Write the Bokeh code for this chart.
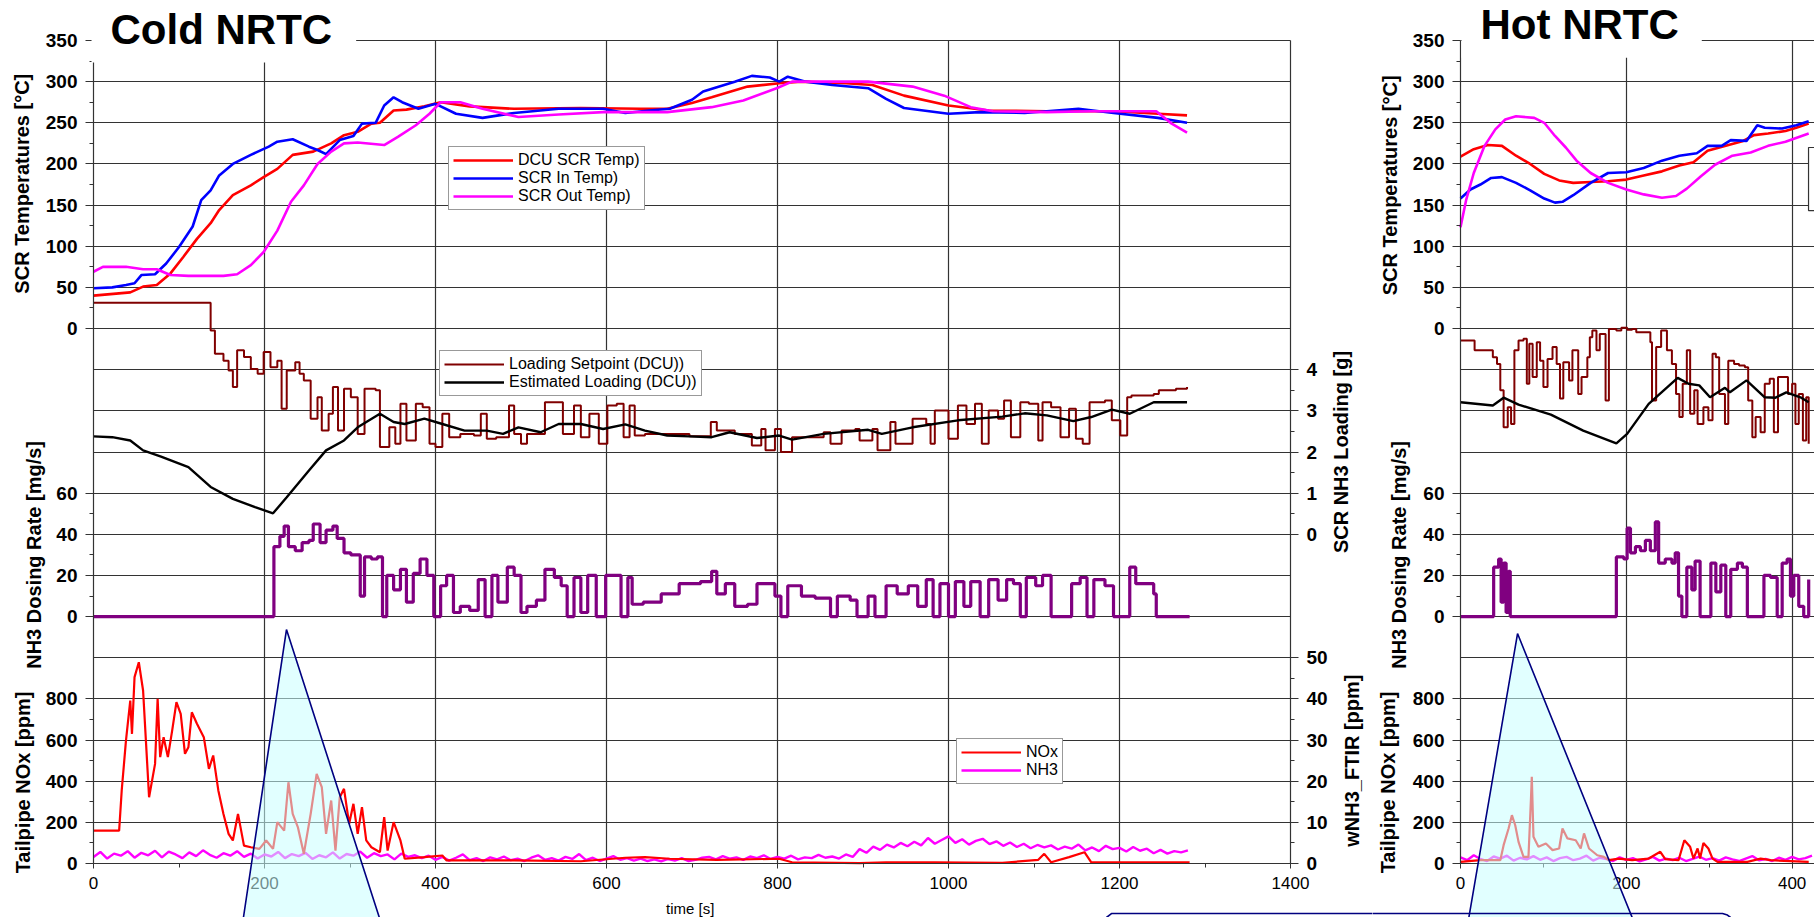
import json
import numpy as np
from bokeh.plotting import figure
from bokeh.models import (Range1d, LinearAxis, FixedTicker, CustomJSTickFormatter,
                          Label, Legend, LegendItem, PolyAnnotation)
from bokeh.layouts import row
from bokeh.embed import file_html
from bokeh.resources import INLINE

# ======================= DATA : Cold NRTC =======================
cold_dcu_t = [0, 43, 58, 74, 90, 105, 121, 137, 147, 163, 184, 199, 215, 233, 257, 278, 293, 309, 325, 335,
              351, 366, 387, 406, 440, 492, 570, 640, 671, 700, 723, 765, 802, 828, 880, 911, 948, 1000, 1047,
              1115, 1193, 1245, 1279]
cold_dcu_v = [40, 44, 51, 53, 67, 87, 109, 128, 144, 162, 174, 184, 194, 211, 215, 225, 235, 239, 249, 250,
              265, 266, 270, 275, 270, 267, 268, 267, 267, 274, 281, 294, 298, 300, 298, 296, 283, 271, 265,
              264, 264, 261, 259]
cold_in_t = [0, 22, 38, 48, 56, 72, 85, 100, 116, 126, 137, 147, 163, 184, 205, 215, 233, 252, 262, 272,
             288, 304, 314, 330, 340, 351, 361, 380, 400, 424, 455, 492, 544, 596, 622, 650, 674, 700, 713, 750,
             770, 791, 802, 812, 833, 864, 906, 927, 948, 1000, 1037, 1089, 1152, 1193, 1245, 1279]
cold_in_v = [49, 50, 53, 55, 65, 66, 79, 99, 124, 156, 168, 186, 200, 211, 221, 227, 230, 221, 217, 212,
             229, 234, 249, 250, 271, 281, 275, 267, 273, 261, 256, 262, 267, 267, 262, 265, 267, 278, 288, 300,
             307, 305, 300, 306, 300, 296, 292, 279, 268, 261, 263, 262, 267, 262, 256, 250]
cold_out_t = [0, 11, 38, 58, 74, 90, 111, 152, 168, 184, 199, 215, 231, 246, 262, 278, 293, 309, 340, 356,
              377, 393, 406, 429, 455, 497, 544, 596, 671, 723, 760, 799, 817, 854, 906, 958, 995, 1026, 1052, 1115,
              1167, 1243, 1261, 1279]
cold_out_v = [69, 75, 75, 72, 72, 65, 64, 64, 66, 77, 93, 119, 154, 174, 200, 215, 225, 226, 223, 233,
              247, 261, 275, 275, 267, 257, 260, 263, 263, 269, 277, 292, 300, 300, 300, 294, 283, 269, 264, 263,
              264, 264, 249, 238]

cold_set_t = [0, 130, 137, 142, 152, 158, 163, 168, 176, 184, 192, 199, 207, 215, 220, 226, 236, 241, 246, 254,
              262, 267, 275, 280, 286, 293, 301, 309, 317, 330, 335, 346, 353, 359, 366, 377, 385, 393, 400, 408,
              416, 429, 445, 453, 460, 471, 486, 492, 500, 507, 518, 528, 541, 549, 562, 570, 580, 591, 601, 612,
              620, 627, 633, 645, 674, 697, 722, 729, 750, 770, 781, 786, 797, 804, 817, 854, 862, 875, 891, 896,
              911, 917, 932, 938, 958, 974, 979, 984, 995, 1000, 1011, 1021, 1031, 1039, 1047, 1058, 1065, 1073,
              1084, 1094, 1105, 1110, 1120, 1131, 1141, 1149, 1157, 1165, 1183, 1191, 1201, 1209, 1214, 1240,
              1246, 1266, 1279]
cold_set_v = [5.63, 5.63, 4.95, 4.39, 4.22, 3.98, 3.58, 4.47, 4.31, 4.02, 3.90, 4.43, 4.06, 4.22, 3.05, 3.98,
              4.18, 3.90, 3.74, 2.81, 3.33, 2.52, 2.93, 3.58, 2.52, 3.54, 3.33, 2.44, 3.54, 3.50, 2.12, 2.60,
              2.20, 3.17, 2.28, 3.17, 3.09, 2.20, 2.12, 2.93, 2.36, 2.44, 2.40, 2.93, 2.32, 2.36, 3.13, 2.44,
              2.20, 2.44, 2.44, 3.21, 3.21, 2.44, 3.13, 2.36, 2.93, 2.20, 3.13, 3.17, 2.36, 3.13, 2.40, 2.44,
              2.44, 2.38, 2.73, 2.52, 2.44, 2.16, 2.56, 2.04, 2.56, 2.00, 2.36, 2.48, 2.20, 2.52, 2.56, 2.28,
              2.56, 2.04, 2.73, 2.20, 2.81, 2.68, 2.20, 3.01, 3.01, 2.32, 3.13, 2.68, 3.17, 2.20, 3.01, 2.81,
              3.25, 2.36, 3.21, 3.17, 2.28, 3.21, 3.09, 2.36, 3.05, 2.32, 2.20, 3.21, 3.25, 2.77, 2.40, 3.33,
              3.37, 3.41, 3.50, 3.54, 3.58]
cold_est_t = [0, 22, 43, 58, 79, 111, 137, 163, 189, 210, 226, 252, 272, 293, 309, 335, 351, 364, 387, 408,
              434, 460, 479, 497, 523, 544, 570, 596, 622, 645, 671, 697, 723, 744, 776, 802, 817, 854, 906, 922,
              958, 1011, 1063, 1089, 1115, 1146, 1167, 1191, 1212, 1240, 1279]
cold_est_v = [2.38, 2.36, 2.28, 2.04, 1.89, 1.63, 1.15, 0.86, 0.66, 0.51, 0.90, 1.55, 2.04, 2.28, 2.60, 2.93,
              2.73, 2.68, 2.81, 2.68, 2.52, 2.52, 2.44, 2.60, 2.48, 2.68, 2.68, 2.56, 2.67, 2.52, 2.40, 2.38,
              2.36, 2.48, 2.34, 2.40, 2.30, 2.44, 2.54, 2.44, 2.60, 2.77, 2.86, 2.94, 2.89, 2.75, 2.85, 3.03,
              2.93, 3.21, 3.21]

cold_dose_t = [0, 210, 211, 218, 223, 228, 236, 244, 252, 257, 265, 272, 280, 285, 293, 301, 309, 312, 317, 325,
               332, 338, 343, 351, 359, 366, 374, 382, 390, 398, 406, 413, 421, 429, 440, 450, 458, 466, 473, 484,
               492, 500, 507, 518, 528, 539, 547, 554, 562, 570, 578, 588, 599, 607, 617, 625, 630, 643, 664, 685,
               710, 723, 729, 739, 750, 765, 776, 786, 797, 804, 812, 828, 844, 862, 870, 885, 893, 906, 914, 927,
               940, 953, 964, 974, 982, 990, 1000, 1008, 1018, 1026, 1037, 1047, 1058, 1068, 1076, 1084, 1091,
               1102, 1110, 1120, 1136, 1144, 1154, 1162, 1170, 1183, 1193, 1204, 1212, 1219, 1240, 1243, 1282]
cold_dose_v = [0, 0, 34, 39, 44, 34, 32, 36, 37, 45, 36, 42, 44, 38, 31, 30, 30, 10, 29, 28,
               29, 0, 20, 13, 23, 7, 21, 28, 20, 0, 15, 20, 2, 5, 3, 18, 0, 20, 7, 24,
               20, 2, 5, 8, 23, 19, 15, 0, 19, 2, 20, 0, 20, 20, 0, 19, 6, 7, 11, 16,
               17, 22, 11, 16, 5, 6, 16, 16, 10, 0, 15, 10, 9, 0, 10, 8, 0, 10, 0, 15,
               11, 15, 5, 18, 0, 16, 0, 17, 5, 17, 0, 18, 8, 18, 16, 0, 19, 15, 20, 0,
               0, 16, 19, 0, 18, 15, 0, 0, 24, 16, 11, 0, 0]

cold_nox_t = [0, 30, 33, 38, 43, 45, 48, 53, 58, 65, 72, 75, 78, 82, 87, 92, 97, 102, 107, 111,
              115, 121, 129, 135, 140, 146, 152, 158, 163, 169, 176, 184, 194, 202, 210, 215, 223, 228, 233, 239,
              246, 254, 261, 267, 272, 278, 283, 288, 293, 299, 304, 309, 314, 319, 325, 335, 340, 344, 351, 359,
              364, 387, 408, 413, 440, 492, 570, 622, 645, 674, 729, 802, 817, 896, 927, 984, 1063, 1105, 1112,
              1120, 1141, 1159, 1167, 1251, 1282]
cold_nox_v = [160, 160, 355, 598, 792, 630, 906, 978, 841, 322, 484, 800, 517, 614, 517, 646, 784, 727, 533, 565,
              735, 679, 614, 460, 525, 355, 241, 144, 112, 241, 87, 79, 71, 112, 71, 201, 160, 395, 241, 177,
              47, 241, 436, 371, 144, 306, 63, 322, 363, 193, 290, 144, 274, 112, 79, 55, 225, 63, 201, 112,
              23, 31, 39, 15, 15, 15, 11, 28, 31, 23, 18, 23, 6, 2, 6, 6, 3, 18, 47, 6, 31, 55, 6, 6, 5]

cold_nh3_t = list(range(0, 1281, 8))
cold_nh3_v = [1.6, 2.8, 1.2, 2.4, 1.9, 3.0, 1.4, 2.6, 2.0, 3.1,
              1.5, 2.9, 2.2, 1.3, 2.7, 1.8, 3.2, 2.1, 1.4, 2.5,
              1.9, 3.0, 1.6, 2.4, 1.2, 2.2, 1.7, 2.8, 1.3, 2.3,
              1.8, 2.6, 1.1, 2.0, 1.5, 2.7, 1.2, 2.3, 1.9, 2.9,
              1.4, 2.5, 1.8, 2.2, 1.0, 2.4, 1.6, 2.0, 1.3, 1.9,
              0.9, 1.6, 0.7, 1.4, 2.2, 0.8, 1.3, 0.6, 1.5, 1.0,
              1.7, 0.8, 1.2, 0.6, 1.4, 2.0, 0.9, 1.3, 0.7, 1.6,
              1.1, 2.3, 0.8, 1.4, 0.6, 1.2, 1.8, 0.9, 1.3, 0.7,
              1.2, 0.6, 1.0, 0.5, 1.1, 0.7, 1.3, 0.6, 0.9, 1.4,
              1.6, 1.0, 1.8, 1.2, 1.5, 0.9, 1.7, 1.3, 2.0, 1.1,
              1.6, 1.2, 1.9, 1.0, 1.5, 1.3, 2.1, 1.4, 1.7, 1.2,
              2.2, 1.6, 3.5, 2.6, 4.1, 3.3, 4.6, 3.9, 5.0, 4.2,
              5.3, 4.4, 6.2, 4.8, 5.7, 6.6, 5.0, 5.9, 4.6, 5.5,
              6.0, 4.7, 5.4, 4.3, 5.1, 4.0, 4.8, 3.7, 4.5, 3.9,
              4.4, 3.4, 4.1, 3.6, 4.6, 3.2, 3.9, 3.0, 4.3, 3.5,
              3.8, 2.9, 4.0, 3.1, 3.6, 2.5, 3.3, 2.4, 3.0, 2.7,
              3.2]

# ======================= DATA : Hot NRTC =======================
hot_dcu_t = [0, 16, 33, 50, 67, 84, 101, 119, 136, 157, 178, 200, 221, 243, 264, 281, 298, 320, 341, 354,
             371, 392, 405, 420]
hot_dcu_v = [209, 218, 223, 222, 210, 200, 188, 180, 177, 178, 179, 181, 186, 191, 198, 202, 216, 222, 228, 235,
             237, 240, 244, 249]
hot_in_t = [0, 12, 24, 37, 50, 67, 84, 101, 114, 123, 136, 157, 178, 200, 221, 243, 264, 285, 298, 315,
            326, 345, 358, 367, 388, 405, 420]
hot_in_v = [158, 169, 175, 183, 184, 177, 168, 158, 153, 154, 162, 177, 189, 190, 195, 204, 210, 213, 222, 222,
            229, 228, 247, 244, 243, 247, 252]
hot_out_t = [0, 7, 16, 29, 42, 54, 67, 89, 101, 114, 127, 140, 157, 178, 200, 221, 243, 260, 273, 290,
             307, 328, 350, 371, 392, 420]
hot_out_v = [123, 157, 189, 222, 242, 254, 258, 256, 250, 234, 220, 204, 189, 177, 169, 163, 159, 161, 170, 185,
             199, 210, 214, 222, 227, 237]

hot_set_t = [0, 17, 39, 44, 48, 52, 57, 61, 65, 70, 76, 80, 83, 87, 92, 96, 100, 105, 111, 116,
             120, 124, 131, 135, 142, 146, 153, 156, 159, 164, 168, 175, 179, 188, 194, 201, 207, 212, 223, 229,
             231, 236, 242, 249, 255, 260, 264, 268, 273, 277, 282, 286, 293, 299, 304, 308, 312, 319, 323, 330,
             336, 343, 347, 352, 356, 362, 367, 373, 378, 383, 391, 395, 400, 404, 408, 413, 417, 420]
hot_set_v = [4.71, 4.47, 4.30, 4.14, 3.50, 2.60, 3.09, 2.68, 4.47, 4.71, 4.75, 3.66, 4.63, 3.82, 4.67, 4.22,
             3.58, 4.26, 4.55, 4.14, 3.30, 4.18, 3.74, 4.47, 3.41, 3.82, 4.30, 4.79, 4.95, 4.47, 4.87, 3.25,
             4.99, 4.95, 5.02, 4.97, 4.99, 4.91, 4.91, 4.67, 3.25, 4.55, 4.95, 4.47, 4.14, 3.41, 2.85, 3.66,
             4.47, 2.93, 3.50, 2.68, 3.09, 2.77, 4.39, 4.30, 3.41, 2.68, 4.22, 4.14, 4.10, 4.06, 3.25, 2.36,
             2.85, 2.48, 3.66, 3.78, 2.48, 3.82, 3.82, 3.41, 3.66, 2.68, 3.41, 2.28, 3.33, 2.20]
hot_est_t = [0, 39, 52, 70, 109, 148, 188, 201, 227, 262, 275, 288, 301, 319, 325, 345, 367, 380, 393, 410, 420]
hot_est_v = [3.21, 3.13, 3.32, 3.15, 2.91, 2.52, 2.21, 2.44, 3.17, 3.80, 3.66, 3.62, 3.33, 3.56, 3.45, 3.74,
             3.33, 3.32, 3.45, 3.33, 3.21]
hot_dose_t = [0, 39, 40, 46, 49, 52, 55, 58, 60, 64, 186, 188, 197, 201, 205, 211, 217, 223, 229, 235,
              239, 247, 255, 259, 263, 267, 273, 279, 283, 289, 298, 302, 308, 314, 320, 326, 334, 340, 346, 358,
              366, 374, 382, 388, 394, 398, 402, 408, 414, 420]
hot_dose_v = [0, 0, 24, 28, 7, 26, 2, 22, 0, 0, 0, 29, 28, 43, 31, 34, 32, 37, 32, 46,
              26, 28, 26, 31, 10, 0, 24, 13, 27, 0, 0, 26, 12, 25, 0, 23, 26, 24, 0, 0,
              20, 19, 0, 26, 28, 10, 20, 5, 0, 18]
hot_nox_t = [0, 24, 48, 52, 58, 62, 66, 70, 76, 82, 85, 86, 88, 94, 103, 111, 119, 123, 129, 139,
             145, 149, 155, 165, 173, 179, 191, 207, 227, 241, 247, 263, 270, 277, 281, 286, 289, 293, 299, 304,
             310, 346, 362, 374, 420]
hot_nox_v = [8, 16, 16, 89, 170, 235, 186, 105, 32, 32, 316, 421, 130, 81, 97, 65, 73, 170, 122, 113,
             73, 146, 73, 40, 32, 16, 24, 16, 24, 57, 21, 16, 113, 81, 24, 73, 24, 100, 73, 24,
             8, 8, 24, 16, 8]
hot_nh3_t = list(range(0, 425, 8))
hot_nh3_v = [1.5, 0.8, 2.0, 1.1, 0.6, 1.7, 1.2, 1.9, 0.7, 1.4,
             1.0, 1.8, 0.9, 1.5, 0.6, 1.3, 1.6, 0.8, 1.2, 1.9,
             0.7, 1.4, 1.1, 0.6, 1.5, 0.9, 1.3, 0.5, 1.0, 1.6,
             0.7, 1.2, 0.8, 1.4, 0.6, 1.1, 1.7, 0.9, 1.3, 0.7,
             1.5, 1.0, 0.6, 1.2, 1.8, 0.8, 1.1, 0.6, 1.4, 0.9,
             1.6, 1.0, 1.3, 1.9]

# tick values
temp_ticks = [0, 50, 100, 150, 200, 250, 300, 350]
dose_ticks = [0, 20, 40, 60]
nox_ticks = [0, 200, 400, 600, 800]
load_ticks = [0, 1, 2, 3, 4]
wnh3_ticks = [0, 10, 20, 30, 40, 50]
cold_x_ticks = [0, 200, 400, 600, 800, 1000, 1200, 1400]
hot_x_ticks = [0, 200, 400]

# ======================= SCALES / GEOMETRY =======================
CANVAS_H = 917
PLOT_TOP, PLOT_BOT = 40, 863          # pixel rows of the 350 degC line and of the time axis
N_BANDS = 20
T_TOP, T_STEP = 350, 50
TEMP = (T_TOP - N_BANDS * T_STEP, T_TOP)


def stacked(zero_band, per_band):
    top = zero_band * per_band
    return (top - N_BANDS * per_band, top)


DOSE = stacked(14, 20)
NOX = stacked(20, 200)
LOAD = stacked(12, 1)
WNH3 = stacked(20, 10)


def y_ext(rng):
    lo, hi = rng
    per = (hi - lo) / (PLOT_BOT - PLOT_TOP)
    return Range1d(lo - (CANVAS_H - PLOT_BOT) * per, hi + PLOT_TOP * per)


def x_ext(lo, hi, left_px, right_px, width):
    per = (hi - lo) / (right_px - left_px)
    return Range1d(lo - left_px * per, hi + (width - right_px) * per)


def prim(v, rng):
    lo, hi = rng
    return TEMP[0] + (v - lo) / (hi - lo) * (TEMP[1] - TEMP[0])


def halves(ticks):
    return [(a + b) / 2 for a, b in zip(ticks[:-1], ticks[1:])]


def axis_spec(groups):
    major, minor, mp = [], [], {}
    for ticks, rng in groups:
        for v in ticks:
            pv = prim(v, rng)
            major.append(pv)
            mp[f"{pv:.1f}"] = str(v)
        for v in halves(ticks):
            minor.append(prim(v, rng))
    code = ("const m = %s; const k = tick.toFixed(1); return (k in m) ? m[k] : '';" % json.dumps(mp))
    return FixedTicker(ticks=major, minor_ticks=minor), CustomJSTickFormatter(code=code)


FONT = "Liberation Sans"
GRIDC = "#333333"
RED, BLUE, MAG, MAROON, PURPLE = "#FF0000", "#0000FF", "#FF00FF", "#800000", "#800080"
NAVY = "#000080"


def style_axis(ax, tick_out):
    ax.major_label_text_font = FONT
    ax.major_label_text_font_size = "19px"
    ax.major_label_text_font_style = "bold"
    ax.major_label_text_color = "black"
    ax.major_tick_out = tick_out
    ax.major_tick_in = 0
    ax.minor_tick_out = 4
    ax.minor_tick_in = 0
    ax.major_label_standoff = 8
    ax.axis_line_color = GRIDC
    ax.major_tick_line_color = GRIDC
    ax.minor_tick_line_color = GRIDC
    ax.axis_line_width = 1.2
    ax.major_tick_line_width = 1.2
    ax.minor_tick_line_width = 1.2


def make_fig(width, x_end, left_px, right_px, xticks, xgrid):
    p = figure(width=width, height=CANVAS_H, title=None,
               x_range=x_ext(0, x_end, left_px, right_px, width), y_range=y_ext(TEMP),
               output_backend="svg", toolbar_location=None,
               min_border_left=0, min_border_right=0, min_border_top=0, min_border_bottom=0)
    p.extra_y_ranges = {"dose": y_ext(DOSE), "nox": y_ext(NOX), "load": y_ext(LOAD), "wnh3": y_ext(WNH3)}
    p.border_fill_color = "white"
    p.background_fill_color = "white"
    p.outline_line_color = None

    lt, lf = axis_spec([(temp_ticks, TEMP), (dose_ticks, DOSE), (nox_ticks, NOX)])
    ya = p.yaxis[0]
    ya.ticker = lt
    ya.formatter = lf
    ya.fixed_location = 0
    ya.bounds = TEMP
    style_axis(ya, 8)

    xa = p.xaxis[0]
    xa.ticker = FixedTicker(ticks=xticks, minor_ticks=halves(xticks))
    xa.fixed_location = TEMP[0]
    xa.bounds = (0, x_end)
    xa.major_label_text_font = FONT
    xa.major_label_text_font_size = "17px"
    xa.major_label_text_color = "black"
    xa.major_tick_out = 5
    xa.major_tick_in = 0
    xa.minor_tick_out = 4
    xa.minor_tick_in = 0
    xa.major_label_standoff = 8
    xa.axis_line_color = GRIDC
    xa.major_tick_line_color = GRIDC
    xa.minor_tick_line_color = GRIDC
    xa.axis_line_width = 1.2

    p.xgrid.ticker = FixedTicker(ticks=xgrid)
    p.ygrid.ticker = FixedTicker(ticks=list(range(int(TEMP[0]), int(TEMP[1]) + 1, T_STEP)))
    for g in (p.xgrid, p.ygrid):
        g.grid_line_color = GRIDC
        g.grid_line_width = 1.2
    try:
        p.xgrid.cross_bounds = TEMP
        p.ygrid.cross_bounds = (0, x_end)
    except Exception:
        xr, yr = p.x_range, p.y_range
        eps = 1.5
        p.quad(left=[xr.start, x_end, 0, 0], right=[0, xr.end, x_end, x_end],
               bottom=[yr.start, yr.start, TEMP[1] + eps, yr.start],
               top=[yr.end, yr.end, yr.end, TEMP[0]],
               fill_color="white", line_color=None)
    return p


def draw(p, d):
    r = {}
    r["dcu"] = p.line(d["dcu"][0], d["dcu"][1], line_color=RED, line_width=2.6)
    r["in"] = p.line(d["in"][0], d["in"][1], line_color=BLUE, line_width=2.6)
    r["out"] = p.line(d["out"][0], d["out"][1], line_color=MAG, line_width=2.6)
    r["set"] = p.step(d["set"][0], d["set"][1], mode="after", line_color=MAROON, line_width=2,
                      y_range_name="load")
    r["est"] = p.line(d["est"][0], d["est"][1], line_color="black", line_width=2.4, y_range_name="load")
    r["dose"] = p.step(d["dose"][0], d["dose"][1], mode="after", line_color=PURPLE, line_width=3.2,
                       y_range_name="dose")
    r["nh3"] = p.line(d["nh3"][0], d["nh3"][1], line_color=MAG, line_width=2.4, y_range_name="wnh3")
    r["nox"] = p.line(d["nox"][0], d["nox"][1], line_color=RED, line_width=2.2, y_range_name="nox")
    return r


def legend(items, loc):
    lg = Legend(items=[LegendItem(label=t, renderers=[rr]) for t, rr in items], location=loc)
    lg.border_line_color = GRIDC
    lg.border_line_width = 1.2
    lg.background_fill_color = "white"
    lg.background_fill_alpha = 1
    lg.label_text_font = FONT
    lg.label_text_font_size = "16px"
    lg.label_text_color = "black"
    lg.glyph_width = 60
    lg.glyph_height = 18
    lg.label_height = 18
    lg.label_standoff = 5
    lg.padding = 4
    lg.spacing = 0
    lg.margin = 0
    return lg


def vlabel(p, text, x, y, rng=None):
    kw = dict(x=x, y=y, text=text, angle=np.pi / 2, text_align="center", text_baseline="middle",
              text_font=FONT, text_font_size="20px", text_font_style="bold", text_color="black")
    if rng:
        kw["y_range_name"] = rng
    p.add_layout(Label(**kw))


def poly(p, xs, ys, fill=None, alpha=0.0, color=NAVY, width=1.6):
    p.add_layout(PolyAnnotation(xs=xs, ys=ys, fill_color=fill, fill_alpha=alpha,
                                line_color=color, line_alpha=1.0, line_width=width))


def chart_title(p, text, x, y, pad):
    p.add_layout(Label(x=x, y=y, text=text, anchor="top_left", text_align="left", text_baseline="top",
                       text_font=FONT, text_font_size="42px", text_font_style="bold", text_color="black",
                       background_fill_color="white", background_fill_alpha=1, padding=pad))


# ======================= COLD FIGURE =======================
pc = make_fig(1372, 1400, 93, 1290, cold_x_ticks, [200, 400, 600, 800, 1000, 1200])
rt, rf = axis_spec([(load_ticks, LOAD), (wnh3_ticks, WNH3)])
rax = LinearAxis(ticker=rt, formatter=rf, fixed_location=1400, bounds=TEMP)
style_axis(rax, 8)
pc.add_layout(rax, "right")

rc = draw(pc, {"dcu": (cold_dcu_t, cold_dcu_v), "in": (cold_in_t, cold_in_v), "out": (cold_out_t, cold_out_v),
               "set": (cold_set_t, cold_set_v), "est": (cold_est_t, cold_est_v),
               "dose": (cold_dose_t, cold_dose_v), "nh3": (cold_nh3_t, cold_nh3_v),
               "nox": (cold_nox_t, cold_nox_v)})

pc.add_layout(legend([("DCU SCR Temp)", rc["dcu"]), ("SCR In Temp)", rc["in"]), ("SCR Out Temp)", rc["out"])],
                     (448, 707)))
pc.add_layout(legend([("Loading Setpoint (DCU))", rc["set"]), ("Estimated Loading (DCU))", rc["est"])],
                     (439, 521)))
pc.add_layout(legend([("NOx", rc["nox"]), ("NH3", rc["nh3"])], (956, 133)))

vlabel(pc, "SCR Temperatures [°C]", -84, 176)
vlabel(pc, "NH3 Dosing Rate [mg/s]", -70, 30, "dose")
vlabel(pc, "Tailpipe NOx [ppm]", -83, 394, "nox")
vlabel(pc, "SCR NH3 Loading [g]", 1459, 2.0, "load")
vlabel(pc, "wNH3_FTIR [ppm]", 1472, 25, "wnh3")

pc.add_layout(Label(x=698, y=-705, text="time [s]", text_align="center", text_baseline="middle",
                    text_font=FONT, text_font_size="15px", text_color="black"))

poly(pc, [225.7, 173.1, 339.2], [-365.7, -731.4, -731.4], fill="#C8FFFF", alpha=0.55)
poly(pc, [1178.9, 1181.3, 1184.8, 1190.6, 1528.7, 1528.7],
     [-731.4, -720.4, -715.6, -710.8, -710.8, -731.4])

chart_title(pc, "Cold NRTC", -2.3, 398.6, dict(left=19, right=24, top=5, bottom=10))

# ======================= HOT FIGURE =======================
ph = make_fig(442, 427, 88, 442, hot_x_ticks, [200, 400])
rh = draw(ph, {"dcu": (hot_dcu_t, hot_dcu_v), "in": (hot_in_t, hot_in_v), "out": (hot_out_t, hot_out_v),
               "set": (hot_set_t, hot_set_v), "est": (hot_est_t, hot_est_v),
               "dose": (hot_dose_t, hot_dose_v), "nh3": (hot_nh3_t, hot_nh3_v),
               "nox": (hot_nox_t, hot_nox_v)})

# edge of the (cut-off) legend box of the hot chart
poly(ph, [419.8, 445, 445, 419.8], [220, 220, 143.4, 143.4], fill="white", alpha=1.0, color=GRIDC, width=1.2)

vlabel(ph, "SCR Temperatures [°C]", -85.6, 174)
vlabel(ph, "NH3 Dosing Rate [mg/s]", -73.6, 30, "dose")
vlabel(ph, "Tailpipe NOx [ppm]", -86.9, 394, "nox")

poly(ph, [68.8, 7.4, 213.4], [-370.6, -731.4, -731.4], fill="#C8FFFF", alpha=0.55)
poly(ph, [-120.6, -120.6, 316, 322, 325.7, 328.1, 328.1],
     [-731.4, -710.8, -710.8, -712.6, -715.6, -720.4, -731.4])

chart_title(ph, "Hot NRTC", 1.2, 398.4, dict(left=19, right=23, top=0, bottom=10))

layout = row(pc, ph)
open("out.html", "w").write(file_html(layout, INLINE))
